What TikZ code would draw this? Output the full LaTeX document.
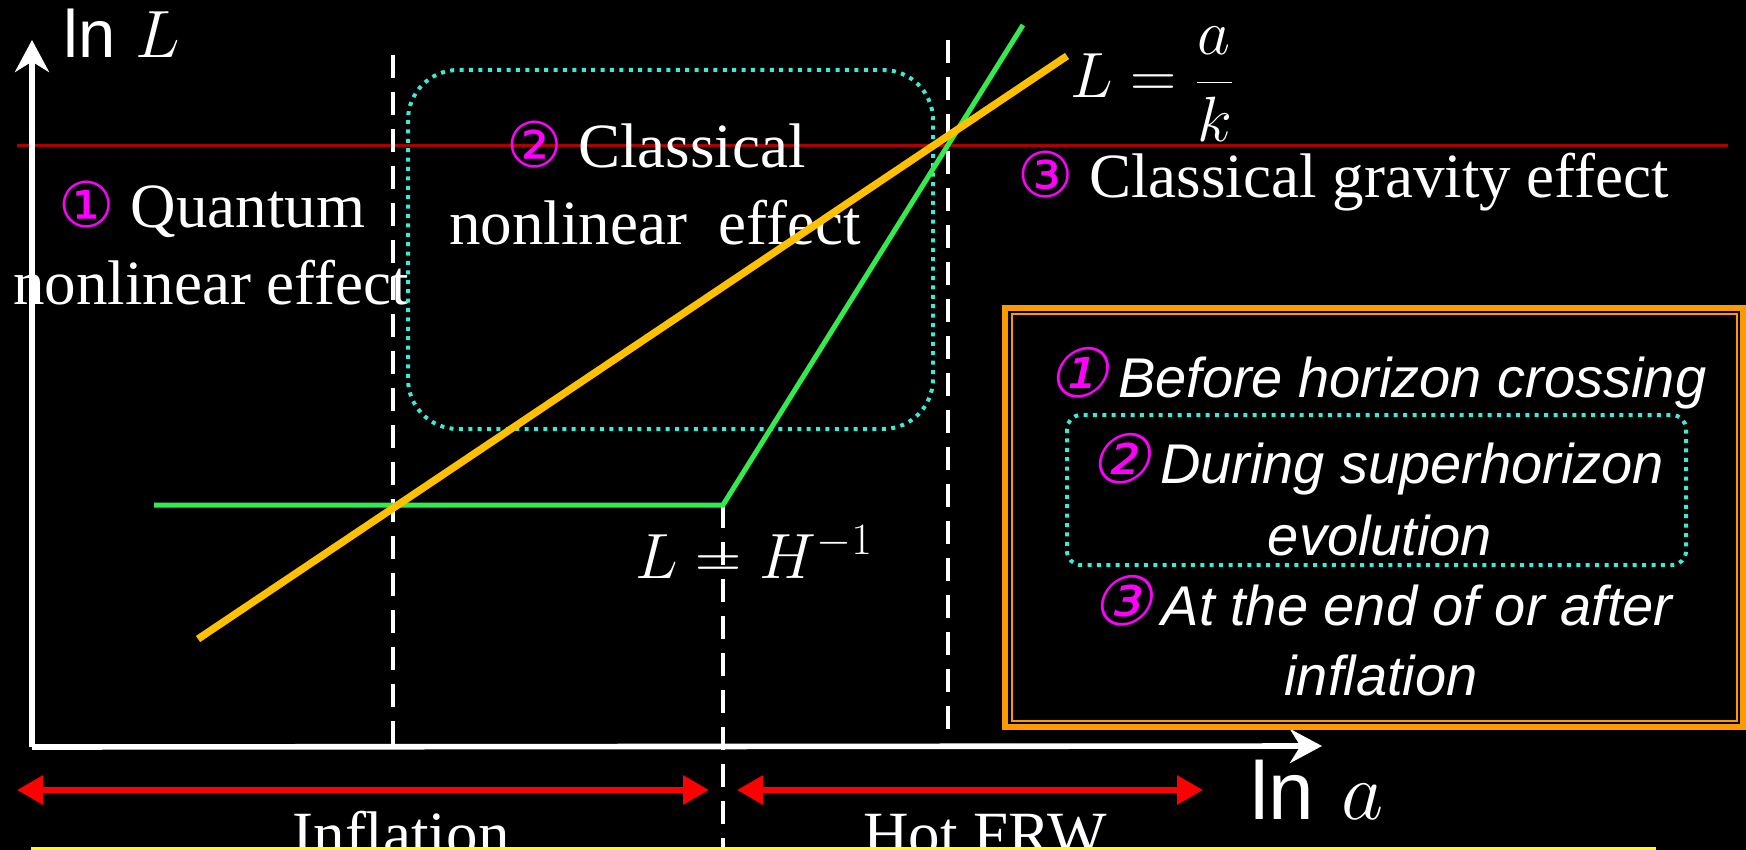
\RequirePackage{fix-cm}
\documentclass[tikz,border=0pt]{standalone}
\usepackage{fontspec}
\setmainfont{Liberation Serif}
\setsansfont{Liberation Sans}
\newfontfamily\circfont{DejaVu Sans}
\newfontfamily\circit{DejaVu Sans}[FakeSlant=0.22]
\usetikzlibrary{arrows.meta}
\definecolor{mag}{RGB}{255,0,255}
\definecolor{cyanc}{RGB}{60,235,215}
\definecolor{greenc}{RGB}{51,235,77}
\definecolor{orangec}{RGB}{255,192,0}
\definecolor{boxc}{RGB}{255,153,0}
\definecolor{darkred}{RGB}{170,0,0}
\definecolor{redc}{RGB}{255,0,0}
\definecolor{yel}{RGB}{255,255,0}
\newcommand{\cn}[1]{{\circfont\color{mag}#1}}
\newcommand{\ci}[1]{{\circit\fontsize{34}{34}\selectfont\color{mag}#1}}
\tikzset{
  txt/.style={text=white, font=\fontsize{31.5}{36}\selectfont, inner sep=0pt, anchor=base},
  mathtxt/.style={text=white, font=\fontsize{32}{38}\selectfont, inner sep=0pt, anchor=base west},
  boxtxt/.style={text=white, font=\sffamily\itshape\fontsize{28}{32}\selectfont, inner sep=0pt, anchor=base},
  dashv/.style={white, line width=2.4pt, dash pattern=on 11.5pt off 7pt},
  dotbox/.style={draw=cyanc, line width=2pt, dash pattern=on 2pt off 2.7pt},
  axisline/.style={white, line width=2.8pt, -{Stealth[length=16pt,width=17pt]}},
  spanarrow/.style={redc, line width=3pt, {Triangle[length=13pt,width=14pt]}-{Triangle[length=13pt,width=14pt]}},
}
\begin{document}
\begin{tikzpicture}[x=0.5pt,y=-0.5pt]
\fill[black] (0,0) rectangle (1746,850);
\useasboundingbox (0,0) rectangle (1746,850);
\clip (0,0) rectangle (1746,850);

% red reference line
\draw[darkred, line width=1.5pt] (17,146) -- (1728,146);

% region texts
\node[txt] (q1) at (212,228) {\cn{①} Quantum};
\node[txt] (q2) at (211,305) {nonlinear effect};
\node[txt] (c1) at (656,168) {\cn{②} Classical};
\node[txt] (c2) at (655,245) {nonlinear\ \ effect};
\node[txt] (g1) at (1343,198) {\cn{③} Classical gravity effect};

% dotted rounded box (region 2)
\draw[dotbox, rounded corners=25pt] (408,70) rectangle (933,429);

% axes
\coordinate (O) at (32,747);
\coordinate (ytip) at (32,40);
\coordinate (xtip) at (1322,746);
\draw[axisline] (O) -- (ytip);
\draw[axisline] (O) -- (xtip);
\node[mathtxt, font=\fontsize{33.5}{38}\selectfont] (lnL) at (63,58) {\sffamily ln\hspace{0.3em}$L$};
\node[mathtxt, font=\fontsize{41}{46}\selectfont] (lna) at (1250,819) {\sffamily ln\hspace{0.33em}$a$};

% dashed vertical lines
\draw[dashv] (393,55) -- (393,747);
\draw[dashv] (723,505) -- (723,850);
\draw[dashv] (948,40) -- (948,731);

% curves
\draw[greenc, line width=2.5pt] (154,505) -- (723,505) -- (1023,25);
\draw[orangec, line width=3.7pt] (198,639) -- (1067,56);

% math labels
\node[mathtxt] (lak) at (1070,98) {$L={\displaystyle\frac{a}{k}}$};
\node[mathtxt] (lh) at (635,578) {$L = H^{-1}$};

% summary box
\draw[boxc, line width=3pt] (1005,308) rectangle (1743,727);
\draw[boxc, line width=1pt] (1012,314) rectangle (1737,721);
\draw[dotbox, rounded corners=7pt] (1067,415) rectangle (1686,565);
\node[boxtxt] (b1) at (1377,397) {\ci{①}\,Before horizon crossing};
\node[boxtxt] (b2) at (1377,483) {\ci{②}\,During superhorizon};
\node[boxtxt] (b3) at (1380,555) {evolution};
\node[boxtxt] (b4) at (1382,625) {\ci{③}\,At the end of or after};
\node[boxtxt] (b5) at (1381,695) {inflation};

% era arrows
\coordinate (i0) at (17,790);
\coordinate (i1) at (709,790);
\coordinate (h0) at (737,790);
\coordinate (h1) at (1203,790);
\draw[spanarrow] (i0) -- (i1);
\draw[spanarrow] (h0) -- (h1);
\node[txt] (inf) at (401,855) {Inflation};
\node[txt] (hot) at (985,855) {Hot FRW};
\fill[yel] (31,847) rectangle (1656,860);
\end{tikzpicture}
\end{document}
